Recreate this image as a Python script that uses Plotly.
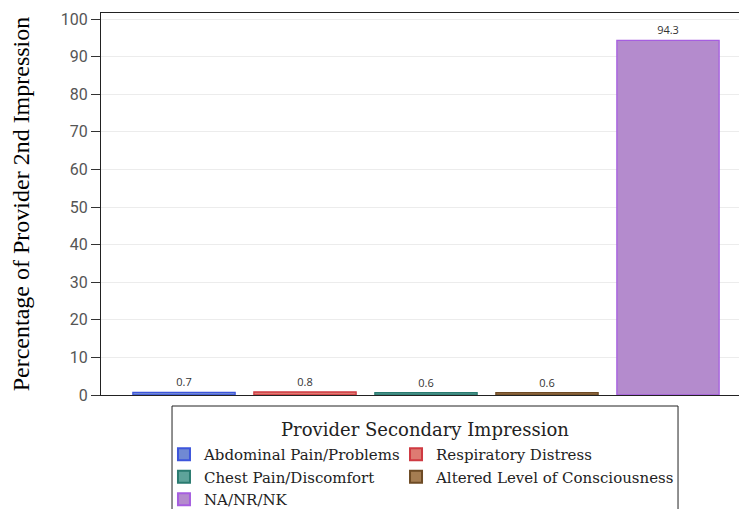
import plotly.graph_objects as go

categories = ["Abdominal Pain/Problems", "Respiratory Distress", "Chest Pain/Discomfort",
              "Altered Level of Consciousness", "NA/NR/NK"]
values = [0.7, 0.8, 0.6, 0.6, 94.3]
fill_colors = ["#7089d3", "#de7b72", "#5ea39a", "#a57d52", "#b48bcd"]
line_colors = ["#3d55dc", "#cf3a42", "#2a7b70", "#6e4b25", "#a65ee0"]
legend_groups = ["legend", "legend2", "legend", "legend2", "legend"]
y_ticks = [0, 10, 20, 30, 40, 50, 60, 70, 80, 90, 100]
legend_title = "Provider Secondary Impression"

fig = go.Figure()
for i, (c, v) in enumerate(zip(categories, values)):
    fig.add_trace(go.Bar(
        x=[i], y=[v], name=c, width=0.845, legend=legend_groups[i],
        marker=dict(color=fill_colors[i], line=dict(color=line_colors[i], width=1.3)),
        text=[f"{v:.1f}"], textposition="outside", cliponaxis=False,
        textfont=dict(family="Open Sans, sans-serif", size=11, color="#333"),
    ))

leg_font = dict(family="DejaVu Serif, serif", size=15, color="#222")
fig.update_layout(
    width=747, height=509,
    margin=dict(l=93, r=0, t=5, b=122, autoexpand=False),
    plot_bgcolor="white", paper_bgcolor="white",
    showlegend=True, barmode="group",
    xaxis=dict(range=[-0.686, 4.719], showticklabels=False, ticks="", showgrid=False,
               showline=True, linecolor="#222", linewidth=1.3, mirror=True, zeroline=False,
               automargin=False),
    yaxis=dict(range=[0, 101.6], tickvals=y_ticks, ticks="outside", ticklen=9,
               tickcolor="#333", tickfont=dict(family="Roboto, sans-serif", size=16, color="#555"),
               showgrid=True, gridcolor="#ececec", showline=True, linecolor="#222",
               linewidth=1.3, zeroline=False, automargin=False,
               title=dict(text="Percentage of Provider 2nd Impression",
                          font=dict(family="Liberation Serif, serif", size=24, color="#000"),
                          standoff=26)),
    legend=dict(orientation="v", x=0.0963, xanchor="left", y=-0.1126, yanchor="top",
                borderwidth=0, bgcolor="rgba(0,0,0,0)", font=leg_font,
                itemsizing="constant", traceorder="normal"),
    legend2=dict(orientation="v", x=0.4511, xanchor="left", y=-0.1126, yanchor="top",
                 borderwidth=0, bgcolor="rgba(0,0,0,0)", font=leg_font,
                 itemsizing="constant", traceorder="normal"),
    shapes=[dict(type="rect", xref="paper", yref="paper", x0=0.1086, x1=0.8823,
                 y0=-0.0288, y1=-0.36, line=dict(color="#222", width=1), fillcolor="rgba(0,0,0,0)")],
    annotations=[dict(text=legend_title, xref="paper", yref="paper", x=0.4954, y=-0.0916,
                      xanchor="center", yanchor="middle", showarrow=False,
                      font=dict(family="DejaVu Serif, serif", size=18, color="#222"))],
)

fig.write_html("out.html")
